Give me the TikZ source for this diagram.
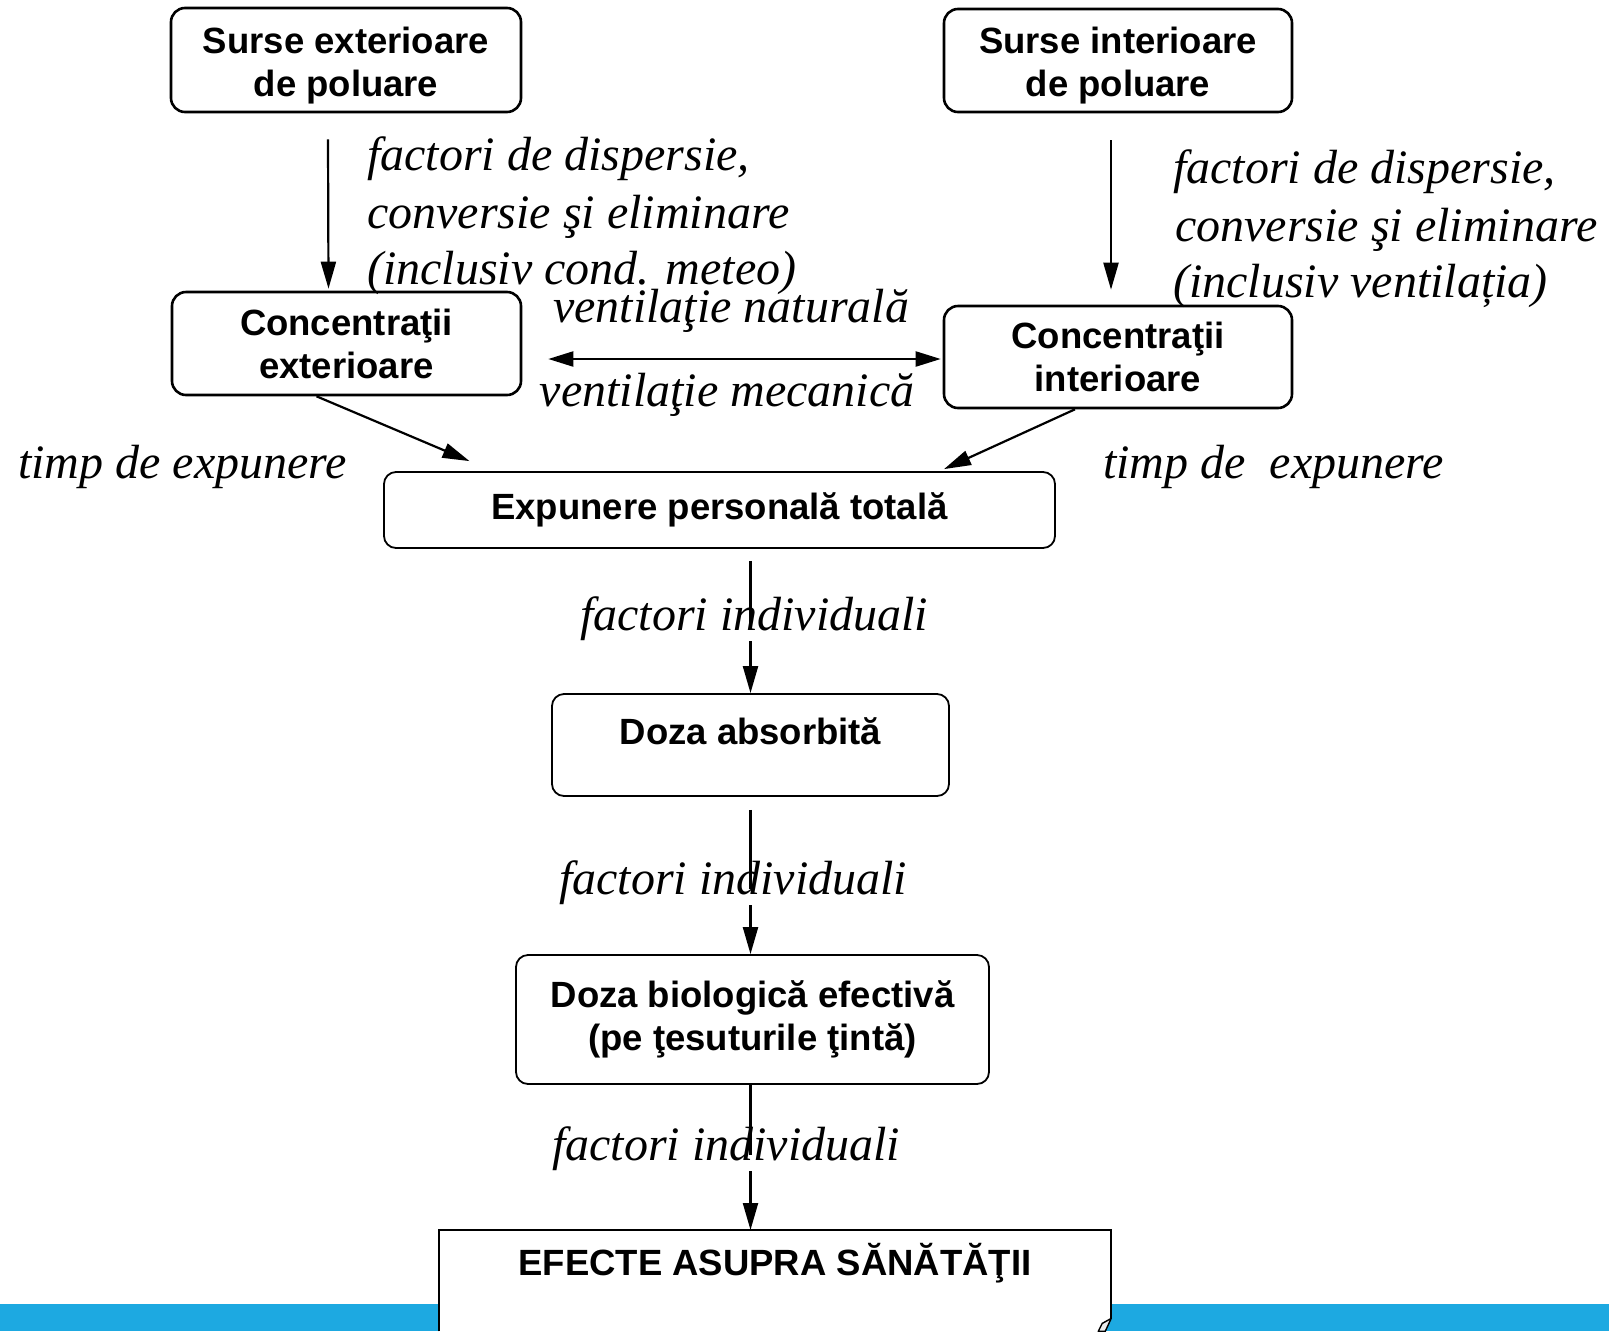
\documentclass[tikz,border=0pt]{standalone}
\usepackage{fontspec}
\setmainfont{Liberation Serif}
\setsansfont{Liberation Sans}
\usetikzlibrary{arrows.meta}
\definecolor{bandblue}{RGB}{29,169,225}
\tikzset{
  box/.style={draw, rounded corners=14pt, line width=2.6pt, align=center, inner sep=0pt,
    font=\sffamily\bfseries\fontsize{36.5}{43}\selectfont},
  thinbox/.style={box, line width=1.8pt, rounded corners=12pt},
  btext/.style={inner sep=0pt, align=center, font=\sffamily\bfseries\fontsize{36.5}{43}\selectfont},
  lab/.style={inner sep=0pt, anchor=mid west, font=\itshape\fontsize{48}{57}\selectfont},
  cutlab/.style={lab, fill=white, text height=1.25ex, text depth=10pt},
  arr/.style={line width=2.2pt, -{Triangle[length=27pt,width=15pt]}},
  darr/.style={line width=2.2pt, {Triangle[length=25pt,width=15pt]}-{Triangle[length=25pt,width=15pt]}},
}
\begin{document}
\begin{tikzpicture}[x=1pt,y=-1pt]
\useasboundingbox (0,0) rectangle (1609,1331);
\clip (0,0) rectangle (1609,1331);
\fill[bandblue] (0,1304) rectangle (1609,1331);

% boxes
\node[box, minimum width=350pt, minimum height=104pt] (sext) at (346,60) {};
\node[btext] (sextt) at (346,66) {Surse exterioare\\de poluare};
\node[box, minimum width=348pt, minimum height=103pt] (sint) at (1118,60.5) {};
\node[btext] (sintt) at (1118,66) {Surse interioare\\de poluare};
\node[box, minimum width=349pt, minimum height=103pt] (cext) at (346.5,343.5) {Concentraţii\\exterioare};
\node[box, minimum width=348pt, minimum height=102pt] (cint) at (1118,357) {Concentraţii\\interioare};
\node[thinbox, minimum width=671pt, minimum height=76pt] (exp) at (719.5,510) {Expunere personală totală};
\node[thinbox, minimum width=397pt, minimum height=102pt] (doza) at (750.5,745) {};
\node[btext] (dozat) at (750.5,731) {Doza absorbită};
\node[thinbox, minimum width=473pt, minimum height=129pt] (dbio) at (752.5,1019.5) {Doza biologică efectivă\\(pe ţesuturile ţintă)};

% effects box (runs off the bottom, folded corner)
\node[inner sep=0pt, minimum width=672pt, minimum height=101pt, anchor=north] (efe) at (775,1230) {};
\fill[white] (efe.north west) -- (efe.north east) -- ([yshift=13pt]efe.south east)
  -- ([xshift=-13pt]efe.south east) -- (efe.south west) -- cycle;
\draw[line width=2pt] (efe.south west) -- (efe.north west) -- (efe.north east) -- ([yshift=13pt]efe.south east);
\filldraw[fill=gray!15, line width=1.4pt, line join=round]
  ([yshift=13pt]efe.south east) -- ([xshift=-9pt,yshift=8pt]efe.south east)
  -- ([xshift=-13pt]efe.south east) -- ([xshift=-6pt]efe.south east) -- cycle;
\node[btext] (efet) at (775,1263) {EFECTE ASUPRA SĂNĂTĂŢII};

% connectors
\draw[arr] ([xshift=-18pt,yshift=-26pt]sext.south) -- ([xshift=-18pt,yshift=2pt]cext.north);
\draw[arr] ([xshift=-7pt,yshift=-27pt]sint.south) -- ([xshift=-7pt,yshift=15pt]cint.north);
\draw[darr] ([xshift=26pt,yshift=-2pt]cext.east |- cint.west) -- ([xshift=-2pt,yshift=-2pt]cint.west);
\draw[arr] ([xshift=-30pt]cext.south) -- ([xshift=-250pt,yshift=10pt]exp.north);
\draw[arr] ([xshift=-43pt]cint.south) -- ([xshift=224.5pt,yshift=2pt]exp.north);
\draw[arr, shorten <=12pt] (exp.south -| doza.north) -- (doza.north);
\draw[arr, shorten <=13pt] (doza.south) -- (dbio.north -| doza.south);
\draw[arr] (dbio.south -| doza.south) -- (efe.north -| doza.south);

% labels
\node[cutlab] (fi1) at (580,628.5) {factori individuali};
\node[cutlab] (fi2) at (559,892.5) {factori individuali};
\node[cutlab] (fi3) at (552,1158.5) {factori individuali};

\node[lab] (l1a) at (367,168.5) {factori de dispersie,};
\node[lab] (l1b) at (367,226) {conversie şi eliminare};
\node[lab] (l1c) at (367,282.5) {(inclusiv cond. meteo)};
\node[lab] (r1a) at (1173,181.5) {factori de dispersie,};
\node[lab] (r1b) at (1175,239.5) {conversie şi eliminare};
\node[lab] (r1c) at (1173,295.5) {(inclusiv ventilația)};
\node[lab, anchor=mid] (vn) at (731,320.5) {ventilaţie naturală};
\node[lab, anchor=mid] (vm) at (727,404.5) {ventilaţie mecanică};
\node[lab] (tl) at (18,476.5) {timp de expunere};
\node[lab] (tr) at (1103,476.5) {timp de\ \ expunere};
\end{tikzpicture}
\end{document}
